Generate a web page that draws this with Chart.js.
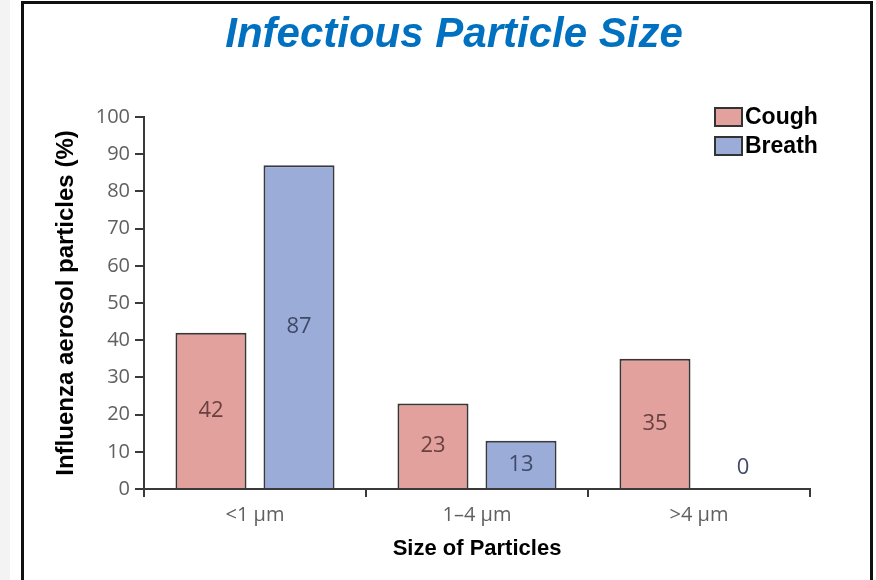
<!DOCTYPE html>
<html>
<head>
<meta charset="utf-8">
<script src="https://cdn.jsdelivr.net/npm/chart.js@4"></script>
<style>
    body { margin: 0; background: #fff; }
    #wrap { position: relative; width: 876px; height: 580px; overflow: hidden; }
    #side { position: absolute; left: 0; top: 0; width: 10px; height: 580px; background: #f3f3f3; }
    #frame { position: absolute; left: 21px; top: 1px; width: 846px; height: 600px; border: 3px solid #111; }
    #chart { position: absolute; left: 0; top: 0; }
</style>
</head>
<body>
<div id="wrap">
    <div id="side"></div>
    <div id="frame"></div>
    <canvas id="chart" width="876" height="580"></canvas>
</div>
<script>
const categories = ["<1 μm", "1–4 μm", ">4 μm"];
const coughValues = [42, 23, 35];
const breathValues = [87, 13, 0];
const yMin = 0;
const yMax = 100;
const yStep = 10;

const titleText = "Infectious Particle Size";
const yTitle = "Influenza aerosol particles (%)";
const xTitle = "Size of Particles";

// title, legend and value labels drawn by hand
const extras = {
    id: "extras",
    afterDatasetsDraw(chart) {
        const c = chart.ctx;
        c.save();
        c.font = "22px 'Open Sans'";
        c.textAlign = "center";
        c.textBaseline = "middle";
        chart.data.datasets.forEach((ds, i) => {
            const meta = chart.getDatasetMeta(i);
            meta.data.forEach((bar, j) => {
                const h = bar.base - bar.y;
                const y = h < 30 ? bar.base - 21 : (bar.y + bar.base) / 2;
                c.fillStyle = ds.labelColor;
                c.fillText(ds.data[j], bar.x, y);
            });
        });
        c.restore();
    },
    afterDraw(chart) {
        const c = chart.ctx;
        c.save();
        c.font = "italic bold 42px 'Liberation Sans', Arial";
        c.fillStyle = "#0070c0";
        c.textAlign = "center";
        c.textBaseline = "middle";
        c.fillText(titleText, 454, 35);

        c.font = "bold 23px 'Liberation Sans', Arial";
        c.textAlign = "left";
        chart.data.datasets.forEach((ds, i) => {
            const y = 108 + i * 29;
            c.fillStyle = ds.backgroundColor;
            c.fillRect(715, y, 27, 18);
            c.strokeStyle = "#333";
            c.lineWidth = 2;
            c.strokeRect(715, y, 27, 18);
            c.fillStyle = "#000";
            c.fillText(ds.label, 745, y + 10);
        });
        c.restore();
    }
};

const ctx = document.querySelector('#chart').getContext('2d');
const chart = new Chart(ctx, {
    type: "bar",
    data: {
        labels: categories,
        datasets: [
            {
                label: "Cough",
                data: coughValues,
                backgroundColor: "#e2a19d",
                borderColor: "#3b3434",
                borderWidth: 2,
                labelColor: "#6a4040",
            },
            {
                label: "Breath",
                data: breathValues,
                backgroundColor: "#9cacd8",
                borderColor: "#363a44",
                borderWidth: 2,
                labelColor: "#3e4a68",
            },
        ]
    },
    options: {
        responsive: false,
        animation: false,
        devicePixelRatio: 1,
        categoryPercentage: 0.793,
        barPercentage: 0.807,
        layout: {
            padding: {
                left: 0,
                right: 66,
                top: 117,
                bottom: 0,
            }
        },
        plugins: {
            legend: { display: false },
            tooltip: { enabled: false },
        },
        scales: {
            x: {
                grid: {
                    drawOnChartArea: false,
                    color: "#3a3a3a",
                    lineWidth: 2,
                    tickLength: 8,
                },
                border: { color: "#3a3a3a", width: 2 },
                ticks: {
                    color: "#606060",
                    padding: 6,
                    font: { family: "'Open Sans'", size: 20 },
                },
                title: {
                    display: true,
                    text: xTitle,
                    color: "#000",
                    font: { family: "'Liberation Sans', Arial", size: 22, weight: "bold" },
                    padding: { top: 0, bottom: 18 },
                },
                afterFit: (s) => { s.height = 91; },
            },
            y: {
                min: yMin,
                max: yMax,
                grid: {
                    drawOnChartArea: false,
                    color: "#3a3a3a",
                    lineWidth: 2,
                    tickLength: 9,
                },
                border: { color: "#3a3a3a", width: 2 },
                ticks: {
                    stepSize: yStep,
                    color: "#606060",
                    padding: 5,
                    font: { family: "'Open Sans'", size: 20 },
                },
                title: {
                    display: true,
                    text: yTitle,
                    color: "#000",
                    font: { family: "'Liberation Sans', Arial", size: 24, weight: "bold" },
                    padding: { top: 52, bottom: 0 },
                },
                afterFit: (s) => { s.width = 144; },
            }
        }
    },
    plugins: [extras]
});
</script>
</body>
</html>
